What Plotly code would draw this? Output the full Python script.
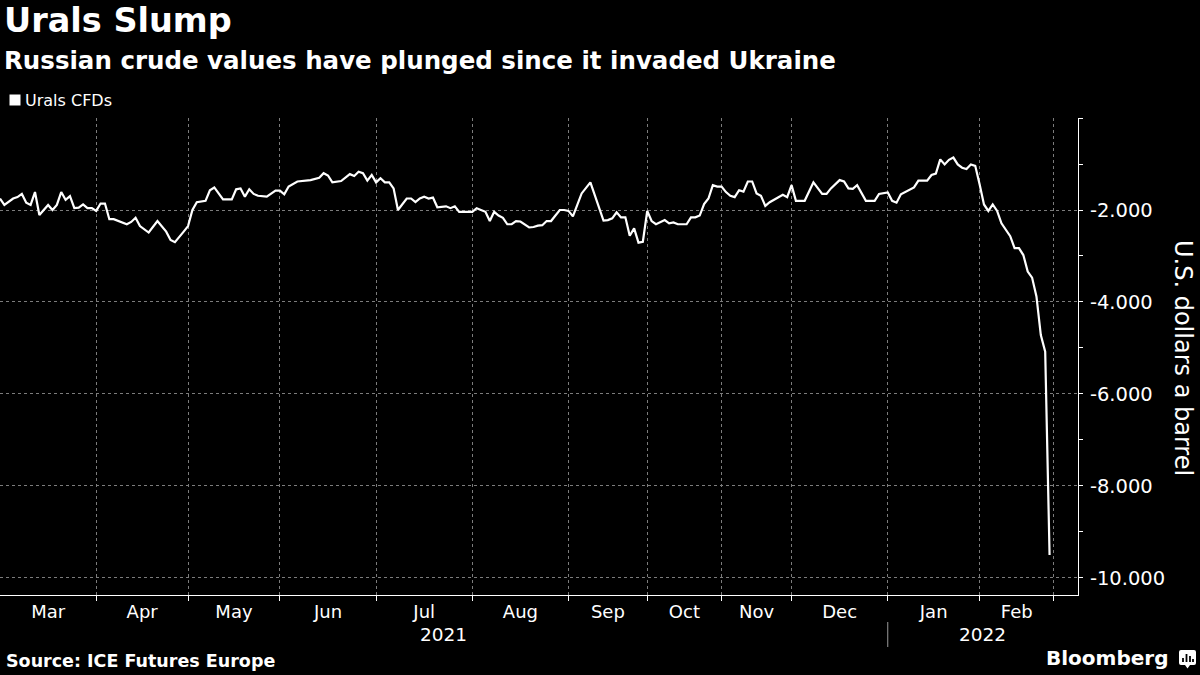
import plotly.graph_objects as go

# ---- data (trading-day index, US$/bbl) ----
trading_day = [0, 1, 3, 4, 5, 6, 7, 8, 9, 11, 12, 13, 14, 15, 16, 17, 18, 19, 20, 21,
               22, 23, 24, 25, 26, 27, 29, 30, 31, 32, 34, 36, 38, 39, 40, 42, 43, 44, 45, 47,
               48, 49, 51, 53, 54, 55, 56, 57, 58, 59, 61, 63, 64, 65, 66, 68, 71, 73, 74, 75,
               76, 78, 79, 80, 81, 82, 83, 84, 85, 86, 87, 88, 89, 90, 91, 93, 94, 95, 96, 97,
               98, 99, 100, 102, 103, 104, 105, 108, 109, 110, 111, 112, 113, 114, 115, 116, 117, 118, 119, 121,
               122, 123, 124, 125, 126, 128, 129, 130, 131, 133, 135, 138, 139, 140, 141, 142, 143, 144, 145, 146,
               147, 148, 149, 150, 152, 153, 154, 155, 157, 158, 159, 160, 161, 162, 163, 164, 165, 166, 167, 168,
               169, 170, 171, 172, 173, 174, 175, 176, 179, 180, 181, 182, 184, 186, 188, 189, 190, 192, 193, 194,
               195, 196, 198, 200, 201, 203, 204, 205, 206, 209, 210, 212, 213, 214, 215, 216, 217, 218, 219, 220,
               221, 222, 223, 224, 225, 226, 227, 228, 229, 231, 232, 233, 234, 235, 236, 237, 238, 239, 240]
urals_cfd = [-1.75, -1.89, -1.75, -1.72, -1.65, -1.84, -1.89, -1.61, -2.11, -1.89, -2.00, -1.89, -1.61, -1.78, -1.70, -1.96, -1.95, -1.88, -1.96, -1.96,
             -2.02, -1.86, -1.86, -2.20, -2.20, -2.24, -2.31, -2.26, -2.17, -2.35, -2.49, -2.24, -2.47, -2.65, -2.70, -2.47, -2.35, -2.00, -1.83, -1.80,
             -1.57, -1.51, -1.77, -1.77, -1.55, -1.53, -1.71, -1.55, -1.65, -1.69, -1.71, -1.58, -1.58, -1.66, -1.49, -1.38, -1.35, -1.30, -1.20, -1.25,
             -1.40, -1.37, -1.29, -1.22, -1.26, -1.17, -1.20, -1.36, -1.24, -1.40, -1.31, -1.40, -1.40, -1.53, -2.00, -1.75, -1.75, -1.83, -1.75, -1.71,
             -1.75, -1.73, -1.94, -1.92, -1.96, -1.92, -2.04, -2.04, -1.96, -2.00, -2.04, -2.24, -2.04, -2.12, -2.17, -2.31, -2.31, -2.24, -2.25, -2.38,
             -2.37, -2.34, -2.33, -2.24, -2.24, -2.00, -2.00, -2.02, -2.14, -1.64, -1.40, -2.23, -2.22, -2.18, -2.05, -2.16, -2.16, -2.56, -2.40, -2.71,
             -2.69, -2.02, -2.24, -2.31, -2.22, -2.29, -2.27, -2.31, -2.31, -2.16, -2.16, -2.12, -1.87, -1.75, -1.46, -1.49, -1.49, -1.61, -1.69, -1.72,
             -1.57, -1.60, -1.38, -1.38, -1.64, -1.69, -1.91, -1.83, -1.67, -1.72, -1.46, -1.80, -1.80, -1.40, -1.65, -1.65, -1.53, -1.35, -1.38, -1.53,
             -1.54, -1.46, -1.80, -1.80, -1.65, -1.62, -1.80, -1.84, -1.66, -1.51, -1.36, -1.36, -1.24, -1.21, -0.90, -1.01, -0.91, -0.86, -1.01, -1.08,
             -1.11, -1.01, -1.04, -1.44, -1.88, -2.02, -1.88, -2.02, -2.29, -2.57, -2.83, -2.83, -2.98, -3.34, -3.47, -3.88, -4.72, -5.08, -9.50]

# trading-day index at which each month starts (Mar 2021 ... Mar 2022)
month_starts = [0, 22, 43, 64, 86, 108, 130, 148, 165, 181, 203, 224, 241]
month_labels = ["Mar", "Apr", "May", "Jun", "Jul", "Aug", "Sep", "Oct", "Nov", "Dec", "Jan", "Feb"]
year_labels = ["2021", "2022"]
year_break = 203          # index of Jan 2022
x_end = 246.5
y_tickvals = [-10, -8, -6, -4, -2, 0]
y_ticktext = ["-10.000", "-8.000", "-6.000", "-4.000", "-2.000", ""]
y_minor = [-9, -7, -5, -3, -1]

# ---- layout geometry (pixels) ----
W, H = 1200, 675
PL, PR, PT, PB = 0, 1078, 118, 595


def px(x):
    return (x - PL) / (PR - PL)


def py(y):
    return (PB - y) / (PB - PT)


FONT = "DejaVu Sans"
GRID = "#7c7c7c"

fig = go.Figure()
fig.add_trace(go.Scatter(
    x=trading_day, y=urals_cfd, mode="lines",
    line=dict(color="white", width=2.2), showlegend=False, hoverinfo="skip",
))

label_pos = [(a + b) / 2 for a, b in zip(month_starts[:-1], month_starts[1:])]

fig.update_layout(
    width=W, height=H,
    paper_bgcolor="black", plot_bgcolor="black",
    margin=dict(l=PL, r=W - PR, t=PT, b=H - PB, pad=0),
    showlegend=False,
    font=dict(family=FONT, color="white"),
)

fig.update_xaxes(
    range=[0, x_end], tickmode="array", tickvals=label_pos, ticktext=month_labels,
    ticks="", showgrid=False, zeroline=False,
    showline=True, linecolor="white", linewidth=1,
    tickfont=dict(family=FONT, size=18, color="white"),
    minor=dict(tickmode="array", tickvals=month_starts[1:], ticks="outside", ticklen=5,
               tickcolor="white", tickwidth=1, showgrid=True, gridcolor=GRID,
               griddash="dot", gridwidth=1),
    fixedrange=True,
)

fig.update_yaxes(
    side="right", range=[-10.37, 0], tickmode="array",
    tickvals=y_tickvals, ticktext=y_ticktext,
    ticks="outside", ticklen=4, tickcolor="white", tickwidth=1,
    showline=True, linecolor="white", linewidth=1,
    showgrid=True, gridcolor=GRID, griddash="dot", gridwidth=1,
    zeroline=False, ticklabelstandoff=3,
    tickfont=dict(family=FONT, size=19.5, color="white"),
    minor=dict(tickmode="array", tickvals=y_minor, ticks="outside", ticklen=4,
               tickcolor="white", showgrid=False),
    fixedrange=True,
)

annotations = []
# title & subtitle
annotations.append(dict(text="<b>Urals Slump</b>", x=px(2), y=py(21), xref="paper", yref="paper",
                        xanchor="left", yanchor="middle", showarrow=False,
                        font=dict(family=FONT, size=33.5, color="white")))
annotations.append(dict(text="<b>Russian crude values have plunged since it invaded Ukraine</b>",
                        x=px(2), y=py(60), xref="paper", yref="paper",
                        xanchor="left", yanchor="middle", showarrow=False,
                        font=dict(family=FONT, size=24.5, color="white")))
# legend
annotations.append(dict(text="Urals CFDs", x=px(23), y=py(100.5), xref="paper", yref="paper",
                        xanchor="left", yanchor="middle", showarrow=False,
                        font=dict(family=FONT, size=16, color="white")))
# y axis title
annotations.append(dict(text="U.S. dollars a barrel", x=px(1183), y=py(358), xref="paper", yref="paper",
                        xanchor="center", yanchor="middle", textangle=90, showarrow=False,
                        font=dict(family=FONT, size=24, color="white")))
# year labels
year_pos = [(month_starts[0] + year_break) / 2, (year_break + x_end) / 2]
for lab, xp in zip(year_labels, year_pos):
    annotations.append(dict(text=lab, x=xp, y=py(634.5), xref="x", yref="paper",
                            xanchor="center", yanchor="middle", showarrow=False,
                            font=dict(family=FONT, size=18.5, color="white")))
# source & brand
annotations.append(dict(text="<b>Source: ICE Futures Europe</b>", x=px(4), y=py(661),
                        xref="paper", yref="paper", xanchor="left", yanchor="middle",
                        showarrow=False, font=dict(family=FONT, size=17.5, color="white")))
annotations.append(dict(text="<b>Bloomberg</b>", x=px(1170), y=py(658),
                        xref="paper", yref="paper", xanchor="right", yanchor="middle",
                        showarrow=False, font=dict(family=FONT, size=20, color="white")))
fig.update_layout(annotations=annotations)

shapes = []
# legend swatch
shapes.append(dict(type="rect", xref="paper", yref="paper", x0=px(9.5), x1=px(20.5),
                   y0=py(105.5), y1=py(94.5), fillcolor="white", line=dict(width=0)))
# year separator
shapes.append(dict(type="line", xref="x", yref="paper", x0=year_break, x1=year_break,
                   y0=py(622), y1=py(647), line=dict(color="#9a9a9a", width=1)))
# Bloomberg icon: white rounded square with black bars
shapes.append(dict(type="path", xref="paper", yref="paper", fillcolor="white", line=dict(width=0),
                   path=(f"M {px(1181)},{py(650)} L {px(1194)},{py(650)} Q {px(1196)},{py(650)} {px(1196)},{py(652)} "
                         f"L {px(1196)},{py(663)} Q {px(1196)},{py(665)} {px(1194)},{py(665)} "
                         f"L {px(1190)},{py(665)} L {px(1187.5)},{py(668.5)} L {px(1185)},{py(665)} "
                         f"L {px(1181)},{py(665)} Q {px(1179)},{py(665)} {px(1179)},{py(663)} "
                         f"L {px(1179)},{py(652)} Q {px(1179)},{py(650)} {px(1181)},{py(650)} Z")))
for bx, top in [(1183, 658), (1186.5, 654), (1190, 656), (1193, 659)]:
    shapes.append(dict(type="rect", xref="paper", yref="paper", x0=px(bx - 0.9), x1=px(bx + 0.9),
                       y0=py(662), y1=py(top), fillcolor="black", line=dict(width=0)))
fig.update_layout(shapes=shapes)

fig.write_html("out.html", config={"displayModeBar": False},
               post_script="document.body.style.margin='0px';document.body.style.overflow='hidden';")
